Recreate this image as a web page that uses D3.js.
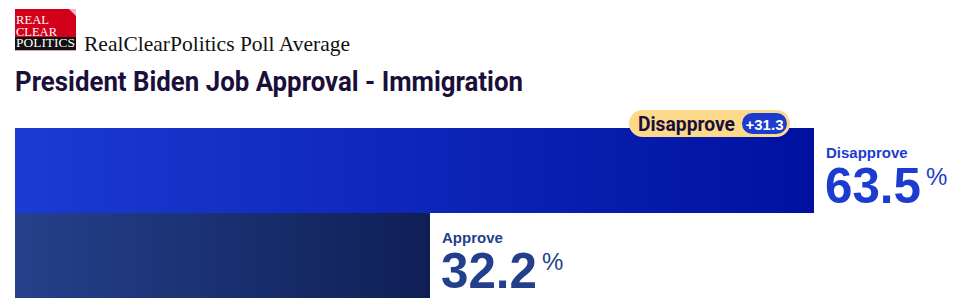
<!DOCTYPE html>
<html>
<head>
<meta charset="utf-8">
<script src="https://cdn.jsdelivr.net/npm/d3@7"></script>
<style>
  body { margin: 0; background: #fff; }
  svg { display: block; }
</style>
</head>
<body>
<div id="chart"></div>
<script>
// poll values
var categories = ["Disapprove", "Approve"];
var values = [63.5, 32.2];
var spreadLabel = "+31.3";
var titleText = "President Biden Job Approval - Immigration";
var sourceText = "RealClearPolitics Poll Average";

var width = 966, height = 301;
var padding = { top: 128, left: 15 };

var svg = d3.select("#chart").append("svg")
    .attr("width", width)
    .attr("height", height);

var defs = svg.append("defs");
var gradDis = defs.append("linearGradient").attr("id", "grad-dis");
gradDis.append("stop").attr("offset", "0%").attr("stop-color", "#1b3bd2");
gradDis.append("stop").attr("offset", "100%").attr("stop-color", "#0011a0");
var gradApp = defs.append("linearGradient").attr("id", "grad-app");
gradApp.append("stop").attr("offset", "0%").attr("stop-color", "#25418b");
gradApp.append("stop").attr("offset", "100%").attr("stop-color", "#0f1f56");
var fills = ["url(#grad-dis)", "url(#grad-app)"];
var labelColors = ["#1c3cd0", "#233f8c"];

// logo
var logo = svg.append("g").attr("transform", "translate(15,9)");
logo.append("rect").attr("width", 61).attr("height", 42).attr("fill", "#d3001b");
logo.append("path").attr("d", "M54,0 L61,0 L61,7 Z").attr("fill", "#f3b8c0");
logo.append("rect").attr("y", 28).attr("width", 61).attr("height", 13).attr("fill", "#111");
logo.append("rect").attr("y", 41).attr("width", 61).attr("height", 1).attr("fill", "#e7a0a8");
logo.selectAll("text.lg")
    .data(["REAL", "CLEAR", "POLITICS"])
    .enter().append("text")
    .attr("x", 1)
    .attr("y", function(d, i) { return 15 + i * 11.5; })
    .attr("fill", "#fff")
    .style("font-family", "'Liberation Serif', serif")
    .style("font-size", "13px")
    .attr("textLength", function(d, i) { return i == 2 ? 59 : (i == 0 ? 33 : 41); })
    .attr("lengthAdjust", "spacingAndGlyphs")
    .text(function(d) { return d; });

svg.append("text")
    .attr("x", 84).attr("y", 51)
    .style("font-family", "'Liberation Serif', serif")
    .style("font-size", "21px")
    .attr("fill", "#111")
    .attr("textLength", 266)
    .attr("lengthAdjust", "spacingAndGlyphs")
    .text(sourceText);

svg.append("text")
    .attr("x", 15).attr("y", 91)
    .style("font-family", "Roboto, sans-serif")
    .style("font-weight", "bold")
    .style("font-size", "27px")
    .attr("fill", "#1b0f3a")
    .attr("textLength", 508)
    .attr("lengthAdjust", "spacingAndGlyphs")
    .text(titleText);

// scales
var xScale = d3.scaleLinear()
    .domain([-1.55, 63.5])
    .range([padding.left, 814]);
var yScale = d3.scaleBand()
    .domain(categories)
    .range([padding.top, 298])
    .padding(0);

svg.selectAll("rect.bar")
    .data(values)
    .enter().append("rect")
    .attr("class", "bar")
    .attr("x", padding.left)
    .attr("y", function(d, i) { return yScale(categories[i]); })
    .attr("width", function(d) { return Math.round(xScale(d)) - padding.left; })
    .attr("height", yScale.bandwidth())
    .attr("fill", function(d, i) { return fills[i]; })
    .attr("shape-rendering", "crispEdges");

// value labels
var lab = svg.selectAll("g.lab")
    .data(values)
    .enter().append("g")
    .attr("class", "lab")
    .attr("transform", function(d, i) {
        return "translate(" + (Math.round(xScale(d)) + 12) + "," + yScale(categories[i]) + ")";
    });
lab.append("text")
    .attr("y", 30)
    .style("font-family", "'Liberation Sans', Arial, sans-serif")
    .style("font-weight", "bold")
    .style("font-size", "15px")
    .attr("fill", function(d, i) { return labelColors[i]; })
    .text(function(d, i) { return categories[i]; });
lab.append("text")
    .attr("y", 75)
    .attr("x", -1)
    .style("font-family", "'Liberation Sans', Arial, sans-serif")
    .style("font-weight", "bold")
    .style("font-size", "50px")
    .attr("fill", function(d, i) { return labelColors[i]; })
    .attr("textLength", 96)
    .attr("lengthAdjust", "spacingAndGlyphs")
    .text(function(d) { return d.toFixed(1); });
lab.append("text")
    .attr("y", 57)
    .attr("x", 100)
    .style("font-family", "'Liberation Sans', Arial, sans-serif")
    .style("font-size", "24px")
    .attr("fill", function(d, i) { return labelColors[i]; })
    .text("%");

// leader badge
var badgeRight = Math.round(xScale(values[0])) - 24;
var badge = svg.append("g").attr("transform", "translate(" + (badgeRight - 161) + ",110)");
badge.append("rect")
    .attr("width", 161).attr("height", 27).attr("rx", 13.5)
    .attr("fill", "#fcd98b");
badge.append("text")
    .attr("x", 9).attr("y", 21)
    .style("font-family", "Roboto, sans-serif")
    .style("font-weight", "bold")
    .style("font-size", "21px")
    .attr("fill", "#1b0f3a")
    .attr("textLength", 97)
    .attr("lengthAdjust", "spacingAndGlyphs")
    .text(categories[0]);
badge.append("rect")
    .attr("x", 113).attr("y", 3).attr("width", 45).attr("height", 21).attr("rx", 10.5)
    .attr("fill", "#1c3cd0");
badge.append("text")
    .attr("x", 135.5).attr("y", 19.5)
    .attr("text-anchor", "middle")
    .style("font-family", "'Liberation Sans', Arial, sans-serif")
    .style("font-weight", "bold")
    .style("font-size", "15px")
    .attr("fill", "#fff")
    .text(spreadLabel);
</script>
</body>
</html>
